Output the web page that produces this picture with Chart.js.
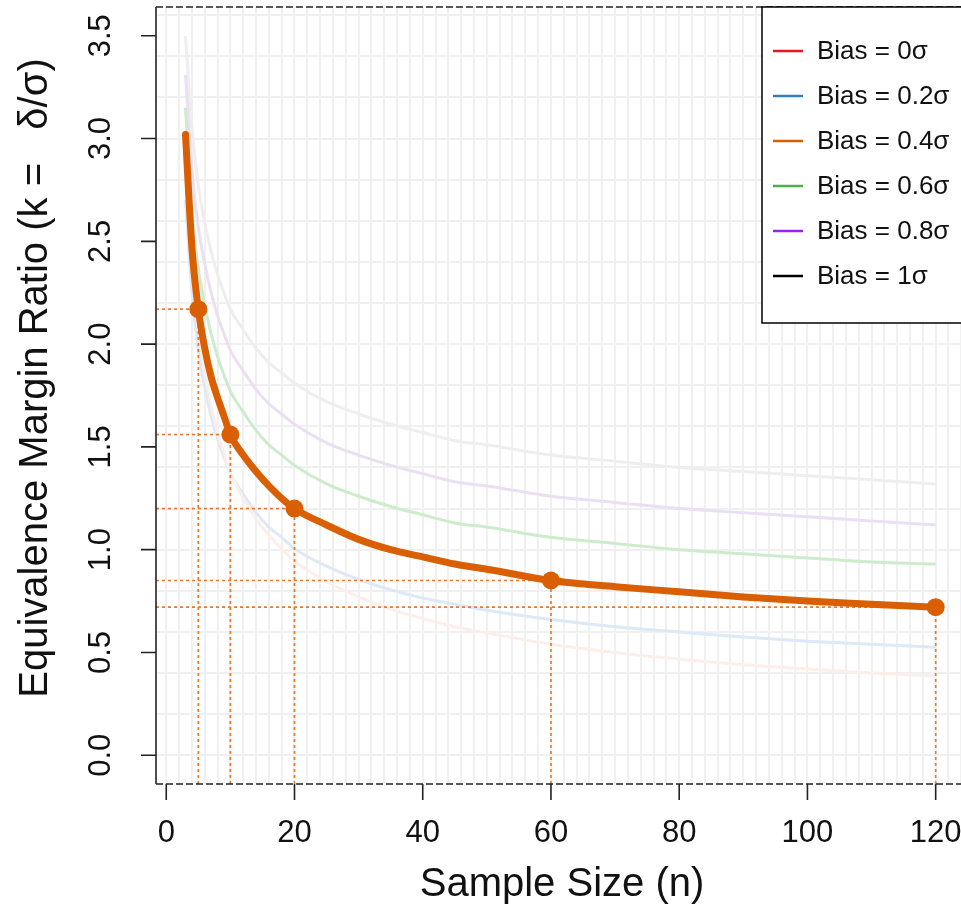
<!DOCTYPE html>
<html>
<head>
<meta charset="utf-8">
<title>Equivalence Margin Ratio vs Sample Size</title>
<script src="https://cdn.jsdelivr.net/npm/chart.js@4.4.1/dist/chart.umd.min.js"></script>
<style>
  html, body { margin: 0; padding: 0; background: #fff; }
</style>
</head>
<body>
<canvas id="marginChart" width="961" height="914"></canvas>
<script>
const sampleSizes = [3, 4, 5, 6, 7, 8, 9, 10, 12, 14, 16, 18, 20, 25, 30, 35, 40, 45, 50, 60, 70, 80, 90, 100, 110, 120];

const biasLabels = ['Bias = 0σ', 'Bias = 0.2σ', 'Bias = 0.4σ', 'Bias = 0.6σ', 'Bias = 0.8σ', 'Bias = 1σ'];
const biasColors = ['#e41a1c', '#377eb8', '#d95f02', '#4daf4a', '#a020f0', '#000000'];
const fadedColors = ['#fcefe9', '#dde9f6', '#f6d9c4', '#cdeccc', '#ebdff3', '#efeded'];

// k = delta / sigma for each bias
const kBias0 = [2.94, 2.41, 2.08, 1.86, 1.70, 1.57, 1.47, 1.375, 1.25, 1.15, 1.07, 1.005, 0.945, 0.845, 0.77, 0.71, 0.665, 0.625, 0.595, 0.54, 0.50, 0.467, 0.44, 0.42, 0.40, 0.385];
const kBias02 = [2.70, 2.25, 1.97, 1.79, 1.65, 1.54, 1.45, 1.37, 1.27, 1.18, 1.11, 1.06, 1.005, 0.92, 0.855, 0.805, 0.765, 0.735, 0.705, 0.66, 0.625, 0.60, 0.575, 0.555, 0.54, 0.525];
const kBias04 = [3.02, 2.47, 2.17, 1.98, 1.84, 1.74, 1.65, 1.56, 1.46, 1.38, 1.31, 1.25, 1.20, 1.12, 1.05, 1.00, 0.965, 0.93, 0.905, 0.85, 0.82, 0.795, 0.77, 0.75, 0.735, 0.72];
const kBias06 = [3.15, 2.65, 2.37, 2.19, 2.05, 1.94, 1.85, 1.77, 1.67, 1.58, 1.51, 1.46, 1.41, 1.32, 1.26, 1.21, 1.17, 1.13, 1.11, 1.06, 1.03, 1.00, 0.98, 0.96, 0.94, 0.93];
const kBias08 = [3.31, 2.85, 2.57, 2.39, 2.25, 2.14, 2.05, 1.97, 1.87, 1.78, 1.71, 1.66, 1.61, 1.52, 1.46, 1.41, 1.37, 1.33, 1.31, 1.26, 1.23, 1.20, 1.18, 1.16, 1.14, 1.12];
const kBias1 = [3.50, 3.05, 2.77, 2.59, 2.45, 2.34, 2.25, 2.17, 2.07, 1.98, 1.91, 1.86, 1.81, 1.72, 1.66, 1.61, 1.57, 1.53, 1.51, 1.46, 1.43, 1.40, 1.38, 1.36, 1.34, 1.32];
const kSeries = [kBias0, kBias02, kBias04, kBias06, kBias08, kBias1];
const highlightIndex = 2;

// highlighted design points on the 0.4 sigma curve
const markerN = [5, 10, 20, 60, 120];
const markerK = [2.17, 1.56, 1.20, 0.85, 0.72];

const xTicks = [0, 20, 40, 60, 80, 100, 120];
const yTicks = [0, 0.5, 1, 1.5, 2, 2.5, 3, 3.5];
const xRange = [-1.6, 123.95];
const yRange = [-0.14, 3.64];

const FONT = '"Liberation Sans", Arial, Helvetica, sans-serif';
const guideColor = '#e57a35';

function points(ys) {
    return sampleSizes.map((n, i) => ({ x: n, y: ys[i] }));
}

const datasets = [];

// faded background curves
kSeries.forEach((ys, i) => {
    if (i === highlightIndex) return;
    datasets.push({
        label: biasLabels[i],
        data: points(ys),
        borderColor: fadedColors[i],
        borderWidth: 3,
        pointRadius: 0,
        cubicInterpolationMode: 'monotone',
        order: 10
    });
});

// dotted guides from the axes to each design point
markerN.forEach((n, i) => {
    datasets.push({
        data: [{ x: xRange[0], y: markerK[i] }, { x: n, y: markerK[i] }],
        borderColor: guideColor,
        borderWidth: 1.7,
        borderDash: [3, 3],
        pointRadius: 0,
        order: 5
    });
    datasets.push({
        data: [{ x: n, y: yRange[0] }, { x: n, y: markerK[i] }],
        borderColor: guideColor,
        borderWidth: 1.7,
        borderDash: [3, 3],
        pointRadius: 0,
        order: 5
    });
});

// highlighted curve
datasets.push({
    label: biasLabels[highlightIndex],
    data: points(kSeries[highlightIndex]),
    borderColor: biasColors[highlightIndex],
    borderWidth: 7,
    borderCapStyle: 'round',
    borderJoinStyle: 'round',
    pointRadius: 0,
    cubicInterpolationMode: 'monotone',
    order: 2
});

// design point markers
datasets.push({
    data: markerN.map((n, i) => ({ x: n, y: markerK[i] })),
    showLine: false,
    pointRadius: 9,
    pointBackgroundColor: biasColors[highlightIndex],
    pointBorderColor: biasColors[highlightIndex],
    pointBorderWidth: 0,
    order: 1
});

const framePlugin = {
    id: 'frame',
    beforeDatasetsDraw(chart) {
        const { ctx, chartArea: a, scales: { x, y } } = chart;
        ctx.save();
        ctx.strokeStyle = '#f0f0f0';
        ctx.lineWidth = 2;
        ctx.beginPath();
        for (let v = 0; v <= 124; v += 2) {
            const px = Math.round(x.getPixelForValue(v));
            ctx.moveTo(px, a.top);
            ctx.lineTo(px, a.bottom);
        }
        for (let v = 0; v <= 3.6001; v += 0.2) {
            const py = Math.round(y.getPixelForValue(v));
            ctx.moveTo(a.left, py);
            ctx.lineTo(a.right, py);
        }
        ctx.stroke();
        ctx.restore();
    },
    afterDatasetsDraw(chart) {
        const { ctx, chartArea: a, scales: { x, y } } = chart;
        ctx.save();

        // box: solid left, dashed top and bottom
        ctx.strokeStyle = '#222';
        ctx.lineWidth = 1.6;
        ctx.beginPath();
        ctx.moveTo(a.left, a.top);
        ctx.lineTo(a.left, a.bottom);
        ctx.stroke();
        ctx.setLineDash([7, 3]);
        ctx.beginPath();
        ctx.moveTo(a.left, a.top);
        ctx.lineTo(a.right, a.top);
        ctx.moveTo(a.left, a.bottom);
        ctx.lineTo(a.right, a.bottom);
        ctx.stroke();
        ctx.setLineDash([]);

        // tick marks and labels
        ctx.fillStyle = '#111';
        ctx.font = '31px ' + FONT;
        ctx.textAlign = 'center';
        ctx.textBaseline = 'middle';
        ctx.beginPath();
        xTicks.forEach(v => {
            const px = x.getPixelForValue(v);
            ctx.moveTo(px, a.bottom);
            ctx.lineTo(px, a.bottom + 16);
            ctx.fillText(String(v), px, 833);
        });
        yTicks.forEach(v => {
            const py = y.getPixelForValue(v);
            ctx.moveTo(a.left, py);
            ctx.lineTo(a.left - 15, py);
            ctx.save();
            ctx.translate(101, py);
            ctx.rotate(-Math.PI / 2);
            ctx.fillText(v.toFixed(1), 0, 0);
            ctx.restore();
        });
        ctx.stroke();

        // axis titles
        ctx.font = '40px ' + FONT;
        ctx.fillText('Sample Size (n)', 562, 885);
        ctx.save();
        ctx.translate(36, 378);
        ctx.rotate(-Math.PI / 2);
        ctx.fillText('Equivalence Margin Ratio (k =   δ/σ)', 0, 0);
        ctx.restore();

        // legend
        const lx = 762, ly = 7, lh = 316;
        ctx.fillStyle = '#fff';
        ctx.fillRect(lx, ly, 220, lh);
        ctx.strokeStyle = '#000';
        ctx.lineWidth = 1.5;
        ctx.strokeRect(lx, ly, 220, lh);
        ctx.font = '26px ' + FONT;
        ctx.textAlign = 'left';
        biasLabels.forEach((label, i) => {
            const cy = 51 + i * 45;
            ctx.strokeStyle = biasColors[i];
            ctx.lineWidth = 2.5;
            ctx.beginPath();
            ctx.moveTo(773, cy);
            ctx.lineTo(803, cy);
            ctx.stroke();
            ctx.fillStyle = '#111';
            ctx.fillText(label, 817, cy + 1);
        });
        ctx.restore();
    }
};

new Chart(document.getElementById('marginChart'), {
    type: 'line',
    data: { datasets: datasets },
    options: {
        responsive: false,
        animation: false,
        devicePixelRatio: 1,
        layout: { autoPadding: false, padding: { left: 156, right: 0, top: 7, bottom: 130 } },
        plugins: { legend: { display: false }, tooltip: { enabled: false } },
        scales: {
            x: { type: 'linear', min: xRange[0], max: xRange[1], display: false },
            y: { type: 'linear', min: yRange[0], max: yRange[1], display: false }
        }
    },
    plugins: [framePlugin]
});
</script>
</body>
</html>
